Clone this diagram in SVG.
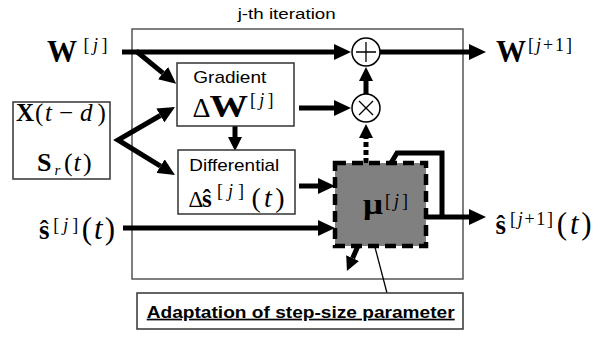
<svg xmlns="http://www.w3.org/2000/svg" width="607" height="337" viewBox="0 0 607 337">
<style>
.sans{font-family:"Liberation Sans",Arial,sans-serif;fill:#000}
.m{font-family:"Liberation Serif","Times New Roman",serif;fill:#000}
.b{font-weight:bold}
.i{font-style:italic}
.box{fill:#fff;stroke:#333;stroke-width:1.5}
.frame{fill:none;stroke:#555;stroke-width:1.5}
.c{fill:none;stroke:#000;stroke-width:5}
.op{fill:#fff;stroke:#000;stroke-width:1.5}
.sym{fill:none;stroke:#000;stroke-width:1.3}
</style>
<defs>
<marker id="ah" markerUnits="userSpaceOnUse" markerWidth="17" markerHeight="16" refX="0" refY="8" orient="auto-start-reverse"><path d="M0,0 L17,8 L0,16 z" fill="#000"/></marker>
<marker id="as" markerUnits="userSpaceOnUse" markerWidth="14" markerHeight="14" refX="0" refY="7" orient="auto"><path d="M0,0 L14,7 L0,14 z" fill="#000"/></marker>
</defs>
<rect width="607" height="337" fill="#fff"/>

<g id="frame">
<rect class="frame" x="132" y="29" width="331" height="250"/>
<text class="sans" x="237.7" y="18.5" font-size="15.5" textLength="98" lengthAdjust="spacingAndGlyphs">j-th iteration</text>
</g>

<g id="connectors">
<line class="c" x1="122" y1="52" x2="334" y2="52" marker-end="url(#ah)"/>
<line class="c" x1="380" y1="52" x2="469" y2="52" marker-end="url(#ah)"/>
<line class="c" x1="136" y1="51" x2="163" y2="73.1" marker-end="url(#ah)"/>
<polyline class="c" points="160.3,115.5 118,140 160.5,166.1" stroke-linejoin="miter" marker-start="url(#ah)" marker-end="url(#ah)"/>
<line class="c" x1="235" y1="126" x2="235" y2="137" marker-end="url(#as)"/>
<line class="c" x1="299" y1="108" x2="334" y2="108" marker-end="url(#ah)"/>
<line class="c" x1="366" y1="94" x2="366" y2="81" marker-end="url(#as)"/>
<line class="c" x1="366" y1="163" x2="366" y2="138" stroke-dasharray="5 3" marker-end="url(#as)"/>
<line class="c" x1="299" y1="186" x2="318" y2="186" marker-end="url(#ah)"/>
<line class="c" x1="123" y1="228" x2="318" y2="228" marker-end="url(#ah)"/>
<line class="c" x1="426" y1="217" x2="469" y2="217" marker-end="url(#ah)"/>
<polyline class="c" points="442,219 442,153 397,153 391,163" stroke-linejoin="miter"/>
<line class="c" x1="358" y1="246" x2="352.6" y2="258.2" marker-end="url(#as)"/>
<line x1="371" y1="232" x2="387" y2="293" stroke="#000" stroke-width="1.3"/>
</g>

<g id="W-in">
<text class="m b" x="47" y="62" font-size="32" textLength="30" lengthAdjust="spacingAndGlyphs">W</text>
<text class="m" x="83.5" y="50.5" font-size="18" textLength="24" lengthAdjust="spacing">[<tspan class="i">j</tspan>]</text>
</g>

<g id="W-out">
<text class="m b" x="496" y="62" font-size="32" textLength="30" lengthAdjust="spacingAndGlyphs">W</text>
<text class="m" x="528" y="50.5" font-size="18" textLength="44" lengthAdjust="spacing">[<tspan class="i">j</tspan>+1]</text>
</g>

<g id="inputs">
<rect class="box" x="13" y="102" width="97" height="77"/>
<text class="m b" x="16" y="121" font-size="25">X</text>
<text class="m" x="35" y="121" font-size="25">(</text>
<text class="m i" x="45" y="121" font-size="25">t</text>
<text class="m" x="59" y="121" font-size="25">−</text>
<text class="m i" x="80" y="121" font-size="25">d</text>
<text class="m" x="97.5" y="121" font-size="25">)</text>
<text class="m b" x="37" y="170.5" font-size="26">S</text>
<text class="m i" x="54.5" y="175" font-size="15">r</text>
<text class="m" x="64" y="170.5" font-size="26">(</text>
<text class="m i" x="73.5" y="170.5" font-size="26">t</text>
<text class="m" x="83" y="170.5" font-size="26">)</text>
</g>

<g id="gradient">
<rect class="box" x="177" y="63" width="117" height="63"/>
<text class="sans" x="193.3" y="83.3" font-size="17" textLength="73" lengthAdjust="spacingAndGlyphs">Gradient</text>
<text class="m" x="192.5" y="116.7" font-size="28">Δ</text>
<text class="m b" x="209.5" y="116.7" font-size="31" textLength="38.5" lengthAdjust="spacingAndGlyphs">W</text>
<text class="m" x="250" y="106" font-size="18" textLength="23.5" lengthAdjust="spacing">[<tspan class="i">j</tspan>]</text>
</g>

<g id="differential">
<rect class="box" x="178" y="150" width="117" height="64"/>
<text class="sans" x="189.3" y="170.7" font-size="17" textLength="90" lengthAdjust="spacingAndGlyphs">Differential</text>
<text class="m" x="188.5" y="207.3" font-size="23">Δ</text>
<text class="m b" x="202" y="207.3" font-size="25">ŝ</text>
<text class="m" x="217" y="197" font-size="18" textLength="27" lengthAdjust="spacing">[<tspan class="i">j</tspan>]</text>
<text class="m" x="251.5" y="207.3" font-size="28" textLength="33" lengthAdjust="spacing">(<tspan class="i">t</tspan>)</text>
</g>

<g id="s-in">
<text class="m b" x="39" y="239.3" font-size="27">ŝ</text>
<text class="m" x="53.3" y="231" font-size="18" textLength="25" lengthAdjust="spacing">[<tspan class="i">j</tspan>]</text>
<text class="m" x="81.7" y="239.3" font-size="31" textLength="33.3" lengthAdjust="spacing">(<tspan class="i">t</tspan>)</text>
</g>

<g id="s-out">
<text class="m b" x="495.5" y="233.5" font-size="27">ŝ</text>
<text class="m" x="510" y="225" font-size="18" textLength="43" lengthAdjust="spacing">[<tspan class="i">j</tspan>+1]</text>
<text class="m" x="556.7" y="233.5" font-size="31" textLength="35" lengthAdjust="spacing">(<tspan class="i">t</tspan>)</text>
</g>

<g id="plus">
<circle class="op" cx="366" cy="52" r="14"/>
<path class="sym" d="M356,52 H376 M366,42 V62"/>
</g>

<g id="times">
<circle class="op" cx="366" cy="108" r="14"/>
<path class="sym" d="M359,101 L373,115 M373,101 L359,115"/>
</g>

<g id="mu">
<rect x="335" y="163" width="91" height="83" fill="#808080" stroke="#000" stroke-width="4.5" stroke-dasharray="11 6"/>
<text class="m b" x="363" y="214" font-size="30" textLength="20" lengthAdjust="spacingAndGlyphs">μ</text>
<text class="m" x="385" y="207" font-size="18" textLength="23" lengthAdjust="spacing">[<tspan class="i">j</tspan>]</text>
</g>

<g id="label">
<rect class="box" x="137" y="293" width="326" height="36"/>
<text class="sans b" x="146.7" y="317.7" font-size="17" textLength="308" lengthAdjust="spacingAndGlyphs" text-decoration="underline">Adaptation of step-size parameter</text>
</g>
</svg>
